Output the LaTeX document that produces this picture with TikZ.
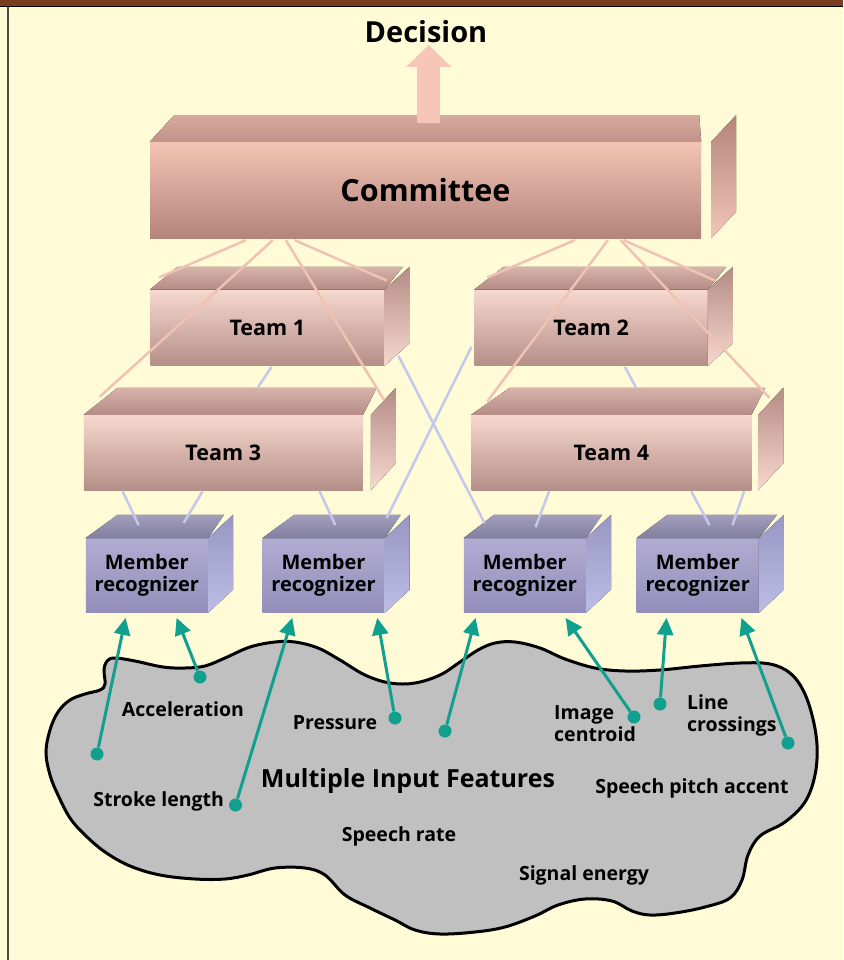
\documentclass[tikz,border=0pt]{standalone}
\usepackage{fontspec}
\setmainfont{Open Sans}
\usepackage{tikz}
\usetikzlibrary{arrows.meta}
\definecolor{paper}{HTML}{FFFBD7}
\definecolor{bandbrown}{HTML}{7A3C20}
\definecolor{rimgray}{HTML}{4A4A44}
\definecolor{blobgray}{HTML}{C0C0C0}
\definecolor{tealc}{HTML}{12A08E}
\definecolor{pinkline}{HTML}{EFC2B4}
\definecolor{lilac}{HTML}{C4C8EA}
\definecolor{arrowpink}{HTML}{F8C6B8}
\definecolor{comA}{HTML}{F3C3B4}
\definecolor{comB}{HTML}{B4847C}
\definecolor{comtopA}{HTML}{D6AA9E}
\definecolor{comtopB}{HTML}{C1928A}
\definecolor{teamA}{HTML}{F7D8CE}
\definecolor{teamB}{HTML}{B48F88}
\definecolor{teamtopA}{HTML}{D7B3AA}
\definecolor{teamtopB}{HTML}{B48C85}
\definecolor{memA}{HTML}{B2ACD2}
\definecolor{memB}{HTML}{938EBA}
\definecolor{memtopA}{HTML}{A29EBB}
\definecolor{memtopB}{HTML}{827E9F}
\definecolor{memsideA}{HTML}{9896C2}
\definecolor{memsideB}{HTML}{BDBDE6}
\tikzset{committee/.style={rectangle, inner sep=0pt, top color=comA, bottom color=comB, minimum width=551pt, minimum height=96pt, font=\fontsize{30.5}{34}\selectfont\bfseries}}
\tikzset{team/.style={rectangle, inner sep=0pt, top color=teamA, bottom color=teamB, minimum height=76pt, font=\fontsize{21.5}{24}\selectfont\bfseries}}
\tikzset{member/.style={rectangle, inner sep=0pt, top color=memA, bottom color=memB, minimum width=122pt, minimum height=74.4pt, align=center, font=\fontsize{20}{21.5}\selectfont\bfseries}}
\tikzset{feat/.style={inner sep=0pt, font=\fontsize{19.5}{22}\selectfont\bfseries}}
\tikzset{featdot/.style={circle, fill=tealc, inner sep=0pt, minimum size=13pt}}
\tikzset{comtop/.style={top color=comtopA, bottom color=comtopB}}
\tikzset{comside/.style={top color=comB, bottom color=comA!95!white}}
\tikzset{teamtop/.style={top color=teamtopA, bottom color=teamtopB}}
\tikzset{teamside/.style={top color=teamtopB, bottom color=teamA}}
\tikzset{memtop/.style={top color=memtopA, bottom color=memtopB}}
\tikzset{memside/.style={top color=memsideA, bottom color=memsideB}}
\tikzset{comlink/.style={color=pinkline, line width=2.5pt}}
\tikzset{teamlink/.style={color=lilac, line width=2.5pt}}
\tikzset{feedlink/.style={color=tealc, line width=3pt, -{Triangle[length=17pt,width=16pt]}}}
\tikzset{decarrow/.style={draw=arrowpink, line width=22.7pt, -{Triangle[length=22pt,width=44pt]}}}
% top and side face of a box: node, left dx, right dx, side gap, depth, styles
\newcommand{\boxfaces}[7]{%
  \fill[#6] (#1.north west) -- ++(#2,-#5) -- ([shift={(#3,-#5)}]#1.north east) -- (#1.north east) -- cycle;
  \fill[#7] ([xshift=#4pt]#1.north east) -- ([shift={(#4+25,-#5)}]#1.north east)
    -- ([shift={(#4+25,-#5)}]#1.south east) -- ([xshift=#4pt]#1.south east) -- cycle;
}

\begin{document}
\begin{tikzpicture}[
	x=1pt,
	y=-1pt,
	]
	\useasboundingbox (0,0) rectangle (843,960);
	\fill[paper] (0,0) rectangle (843,960);
	\fill[bandbrown] (0,0) rectangle (843,6);
	\draw[line width=1.5pt] (0,6.7) -- (843,6.7);
	\draw[rimgray, line width=2pt] (7.5,7) -- (7.5,960);

	% the cloud of input features
	\draw[fill=blobgray, line width=3pt] plot[smooth cycle, tension=0.6] coordinates {
		(46,752) (50,730) (58,712) (70,700) (85,694) (100,690) (105,684) (104,670) (107,661)
		(115,658) (135,661) (163,667) (185,668) (205,666) (225,658) (250,647) (275,642)
		(295,642) (318,648) (340,660) (365,675) (390,683) (415,683) (440,675) (460,662)
		(478,650) (495,643) (515,642) (540,648) (565,659) (595,668) (625,671) (660,670)
		(700,666) (740,663) (770,664) (790,673) (803,690) (812,715) (817,745) (815,775)
		(805,802) (785,822) (760,836) (748,855) (742,880) (730,898) (705,907) (675,913)
		(650,915) (632,911) (612,901) (585,899) (558,905) (535,916) (505,927) (475,932)
		(440,934) (415,930) (395,920) (370,908) (345,895) (325,875) (305,868) (275,868)
		(248,875) (225,879) (195,879) (160,875) (130,866) (105,852) (85,835) (70,818)
		(58,795) (50,775)};

	\node [feat] (acc)    at (183,716.7) [anchor=base] {Acceleration};
	\node [feat] (press)  at (335,729)   [anchor=base] {Pressure};
	\node [feat, align=left] (img)   at (554,705) [anchor=north west] {Image\\centroid};
	\node [feat, align=left] (lines) at (687,694) [anchor=north west] {Line\\crossings};
	\node [feat, font=\fontsize{25}{28}\selectfont\bfseries] (mif) at (408,787) [anchor=base] {Multiple Input Features};
	\node [feat] (pitch)  at (692,793)   [anchor=base] {Speech pitch accent};
	\node [feat] (stroke) at (158.6,806.7) [anchor=base] {Stroke length};
	\node [feat] (rate)   at (399,841)   [anchor=base] {Speech rate};
	\node [feat] (energy) at (584,880)   [anchor=base] {Signal energy};

	\node [featdot] (p1) at (97,754) {};
	\node [featdot] (p2) at (200,677) {};
	\node [featdot] (p3) at (235.5,805) {};
	\node [featdot] (p4) at (395,718) {};
	\node [featdot] (p5) at (445,731) {};
	\node [featdot] (p6) at (634,717) {};
	\node [featdot] (p7) at (660,704) {};
	\node [featdot] (p8) at (788,743) {};

	% boxes
	\node [committee] (com) at (425.5,190) {Committee};
	\node [team, minimum width=234pt] (t1) at (267.3,327.7) {Team 1};
	\node [team, minimum width=233pt] (t2) at (591.1,327.7) {Team 2};
	\node [team, minimum width=279pt, minimum height=75pt] (t3) at (223.3,452.5) {Team 3};
	\node [team, minimum width=280pt, minimum height=75pt] (t4) at (611.3,452.5) {Team 4};
	\node [member] (m1) at (146.8,575.5) {Member\\recognizer};
	\node [member] (m2) at (323.5,575.5) {Member\\recognizer};
	\node [member] (m3) at (524.8,575.5) {Member\\recognizer};
	\node [member] (m4) at (697.7,575.5) {Member\\recognizer};

	\boxfaces{com}{24.5}{-2}{10}{26.7}{comtop}{comside}
	\boxfaces{t1}{27.5}{18.4}{0}{22.6}{teamtop}{teamside}
	\boxfaces{t2}{29}{18.4}{0}{22.6}{teamtop}{teamside}
	\boxfaces{t3}{34}{13.7}{7.8}{27}{teamtop}{teamside}
	\boxfaces{t4}{38.6}{13.8}{6.8}{27}{teamtop}{teamside}
	\boxfaces{m1}{32}{16}{0}{23.3}{memtop}{memside}
	\boxfaces{m2}{32}{16}{0}{23.3}{memtop}{memside}
	\boxfaces{m3}{30.5}{16}{0}{23.3}{memtop}{memside}
	\boxfaces{m4}{31}{18}{0}{23.3}{memtop}{memside}

	\node [font=\fontsize{29}{32}\selectfont\bfseries, inner sep=0pt] (dec) at (426,32) {Decision};
	\draw[decarrow] ([shift={(3.2,-18.7)}]com.north) -- ([shift={(2.7,13)}]dec.center);

	\path[comlink]
	([shift={(96,2)}]com.south west)  edge ([shift={(9,-12)}]t1.north west)
	([shift={(123,2)}]com.south west) edge ([shift={(16,-18)}]t3.north west)
	([shift={(136,2)}]com.south west) edge ([shift={(21,-15)}]t3.north east)
	([shift={(145,2)}]com.south west) edge ([shift={(2,-9)}]t1.north east)
	([shift={(425,2)}]com.south west) edge ([shift={(13,-12)}]t2.north west)
	([shift={(458,2)}]com.south west) edge ([shift={(16,-13)}]t4.north west)
	([shift={(471,2)}]com.south west) edge ([shift={(18,-17)}]t4.north east)
	([shift={(474,2)}]com.south west) edge ([shift={(7,-9)}]t2.north east);

	\path[teamlink]
	([shift={(121.5,1)}]t1.south west) edge ([shift={(174,-27)}]t3.north west)
	([shift={(39,1)}]t3.south west)    edge ([shift={(53,-13)}]m1.north west)
	([shift={(119,1)}]t3.south west)   edge ([shift={(98,-15)}]m1.north west)
	([shift={(236,1)}]t3.south west)   edge ([shift={(73,-13)}]m2.north west)
	([shift={(-3,-19)}]t2.south west)  edge ([shift={(2,-20)}]m2.north east)
	([shift={(14,-10)}]t1.south east)  edge ([shift={(21,-15)}]m3.north west)
	([shift={(78,1)}]t4.south west)    edge ([shift={(72,-11)}]m3.north west)
	([shift={(150.5,1)}]t2.south west) edge ([shift={(165,-27)}]t4.north west)
	([shift={(220,1)}]t4.south west)   edge ([shift={(73,-13)}]m4.north west)
	([shift={(273,1)}]t4.south west)   edge ([shift={(96,-13)}]m4.north west);

	\path[feedlink]
	(p1) edge ([shift={(40,5)}]m1.south west)
	(p2) edge ([shift={(91,5)}]m1.south west)
	(p3) edge ([shift={(30,5)}]m2.south west)
	(p4) edge ([shift={(115,5)}]m2.south west)
	(p5) edge ([shift={(12,5)}]m3.south west)
	(p6) edge ([shift={(102,5)}]m3.south west)
	(p7) edge ([shift={(30,5)}]m4.south west)
	(p8) edge ([shift={(105,5)}]m4.south west);
\end{tikzpicture}
\end{document}
